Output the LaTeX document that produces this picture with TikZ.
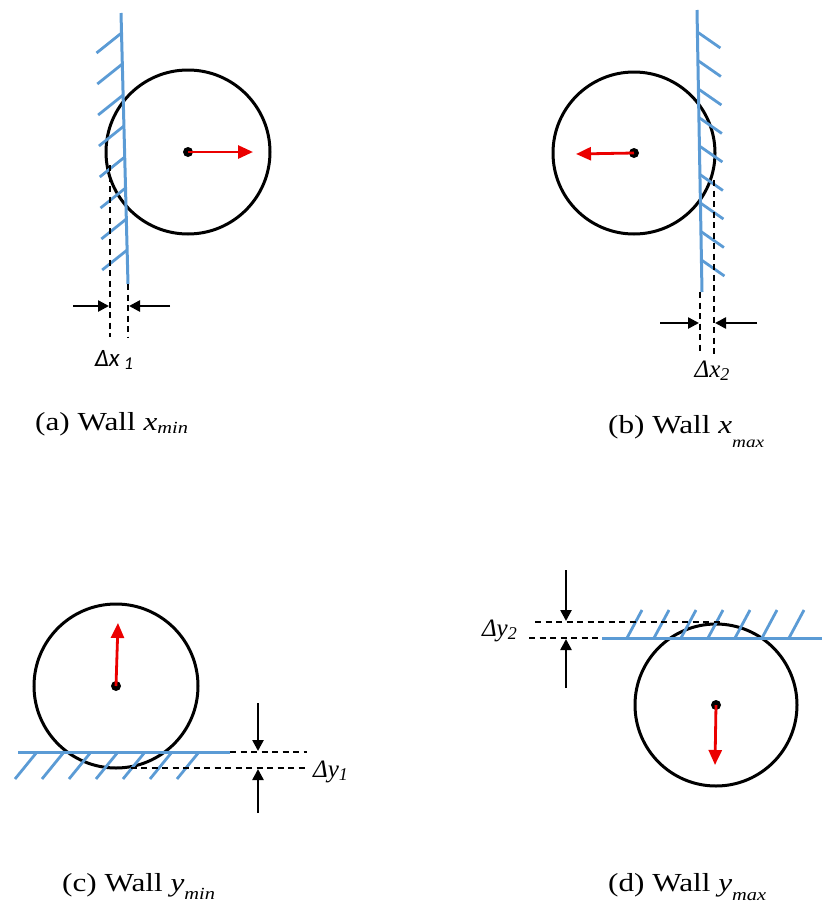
\documentclass[tikz,border=0pt]{standalone}
\usepackage{fontspec}
\setmainfont{Liberation Serif}
\newfontfamily\capfont[FakeStretch=1.2]{Liberation Serif}
\newfontfamily\dimsans{Carlito}
\usetikzlibrary{arrows.meta}
\definecolor{wallblue}{RGB}{91,155,213}
\definecolor{velred}{RGB}{235,0,0}
\newcommand{\dsub}[1]{\raisebox{-3pt}{\fontsize{18}{18}\selectfont #1}}

\begin{document}
\begin{tikzpicture}[x=1pt, y=-1pt, >={Triangle[length=11pt,width=11pt]},
	ball/.style={line width=3pt},
	wall/.style={wallblue, line width=3pt},
	hatch/.style={wallblue, line width=2.8pt},
	dim/.style={line width=2pt, dash pattern=on 6pt off 4.5pt},
	dimarrow/.style={->, line width=2.5pt},
	vel/.style={velred, line width=2.8pt, -{Triangle[length=15pt,width=13pt]}},
	wallcaption/.style={anchor=base west, inner sep=0pt, font=\capfont\fontsize{26}{30}\selectfont},
	delta/.style={inner sep=0pt, font=\fontsize{25}{28}\selectfont\itshape}]
	\useasboundingbox (0,0) rectangle (822,911);
	% (a) wall x_min
	\begin{scope}[shift={(188,152)}]
		\coordinate (ca) at (0,0);
		\draw[ball] (ca) circle (82);
		\fill (ca) circle (5);
		\draw[vel] (ca) -- ++(65,0);
		\draw[wall] (-67,-139) -- (-60,132);
		\foreach \k in {0,...,7} {\draw[hatch] ({-67+0.026*(20+31*\k)},{-119+31*\k}) -- ++(-25,20);}
		\draw[dim] (-78,13) -- (-78,185);
		\draw[dim] (-60,132) -- (-60,185);
		\draw[dimarrow] (-115,154) -- (-79,154);
		\draw[dimarrow] (-18,154) -- (-59,154);
		\node[delta, font=\dimsans\fontsize{25}{28}\selectfont\itshape, anchor=base] (dxa) at (-74,214) {Δx\,\dsub{1}};
	\end{scope}
	% (b) wall x_max
	\begin{scope}[shift={(634,153)}]
		\coordinate (cb) at (0,0);
		\draw[ball] (cb) circle (81);
		\fill (cb) circle (5);
		\draw[vel] (cb) -- ++(-58,1);
		\draw[wall] (63,-143) -- (68,139);
		\foreach \k in {0,...,8} {\draw[hatch] ({63+0.0177*(22+28.5*\k)},{-121+28.5*\k}) -- ++(23,16);}
		\draw[dim] (66,139) -- (66,202);
		\draw[dim] (80,27) -- (80,202);
		\draw[dimarrow] (26,170) -- (65,170);
		\draw[dimarrow] (123,170) -- (81,170);
		\node[delta, anchor=base] (dxb) at (78,224) {Δx\dsub{2}};
	\end{scope}
	% (c) wall y_min
	\begin{scope}[shift={(116,686)}]
		\coordinate (cc) at (0,0);
		\draw[ball] (cc) circle (82);
		\fill (cc) circle (5);
		\draw[vel] (cc) -- ++(2,-63);
		\draw[wall] (-98,66) -- (114,66);
		\foreach \k in {0,...,6} {\draw[hatch] ({-79+27*\k},66) -- ++(-22,27);}
		\draw[dim] (114,66) -- (191,66);
		\draw[dim] (4,82) -- (191,82);
		\draw[dimarrow] (142,17) -- (142,65);
		\draw[dimarrow] (142,127) -- (142,83);
		\node[delta, anchor=base west] (dyc) at (197,91) {Δy\dsub{1}};
	\end{scope}
	% (d) wall y_max
	\begin{scope}[shift={(716,705)}]
		\coordinate (cd) at (0,0);
		\draw[ball] (cd) circle (81);
		\fill (cd) circle (5);
		\draw[vel] (cd) -- ++(-1,60);
		\draw[wall] (-114,-67) -- (106,-67);
		\foreach \k in {0,...,6} {\draw[hatch] ({-89+27*\k},-67) -- ++(15,-28);}
		\draw[dim] (-181,-83) -- (7,-83);
		\draw[dim] (-187,-67) -- (-114,-67);
		\draw[dimarrow] (-150,-135) -- (-150,-84);
		\draw[dimarrow] (-150,-17) -- (-150,-66);
		\node[delta, anchor=base east] (dyd) at (-199,-69) {Δy\dsub{2}};
	\end{scope}
	% captions
	\node[wallcaption] (capa) at (35,430) {(a) Wall \textit{x}\raisebox{-3pt}{\fontsize{17}{17}\selectfont\itshape min}};
	\node[wallcaption] (capb) at (608,433) {(b) Wall \textit{x}\raisebox{-14pt}{\fontsize{16}{16}\selectfont\itshape max}};
	\node[wallcaption] (capc) at (62,891) {(c) Wall \textit{y}\raisebox{-8pt}{\fontsize{17}{17}\selectfont\itshape min}};
	\node[wallcaption] (capd) at (608,891) {(d) Wall \textit{y}\raisebox{-9pt}{\fontsize{17}{17}\selectfont\itshape max}};
\end{tikzpicture}
\end{document}
